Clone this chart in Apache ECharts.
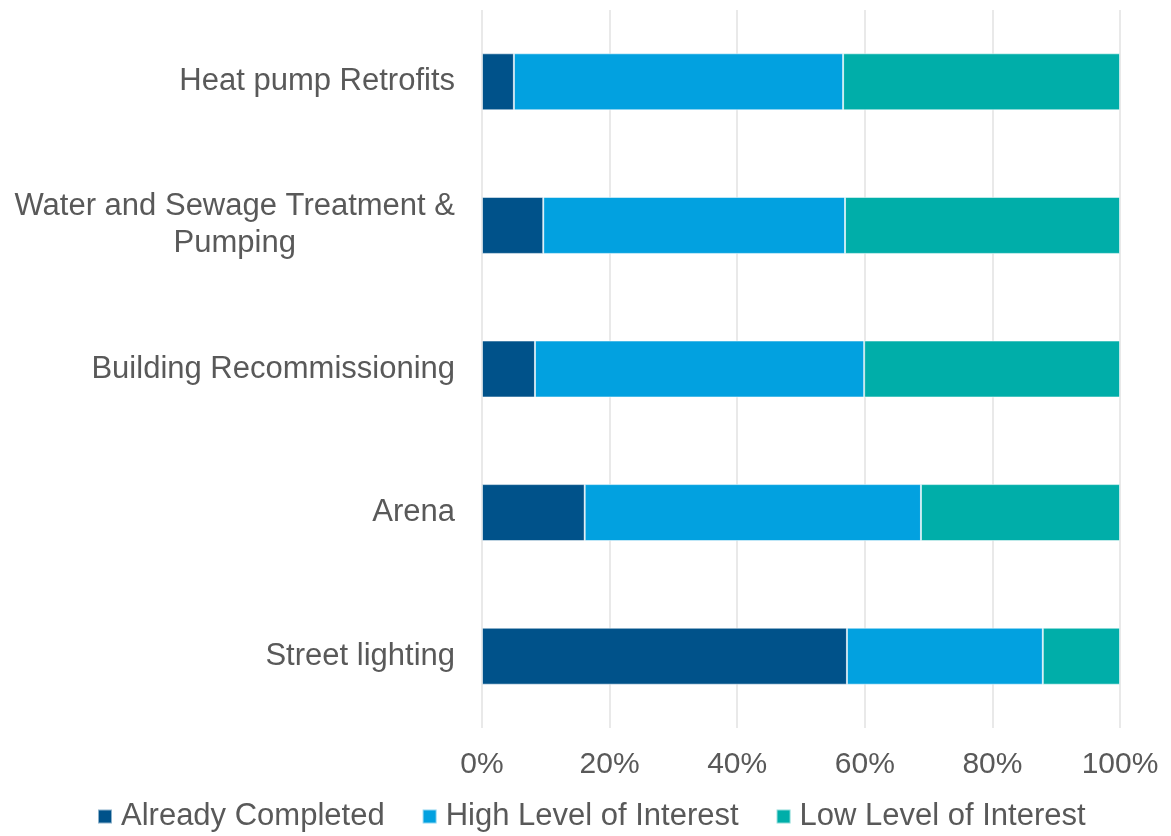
<!DOCTYPE html>
<html>
<head>
<meta charset="utf-8">
<script src="https://cdn.jsdelivr.net/npm/echarts@6/dist/echarts.min.js"></script>
<style>
  html, body { margin: 0; padding: 0; background: #ffffff; }
  #chart { width: 1171px; height: 836px; }
</style>
</head>
<body>
<div id="chart"></div>
<script>
// Project categories, listed bottom-to-top as the category axis draws them
const categories = [
  'Street lighting',
  'Arena',
  'Building Recommissioning',
  'Water and Sewage Treatment &\nPumping',
  'Heat pump Retrofits'
];

// Share of respondents (%) per category
const alreadyCompleted = [57.2, 16.1, 8.3, 9.6, 5.0];
const highInterest     = [30.7, 52.7, 51.6, 47.3, 51.6];
const lowInterest      = [12.1, 31.2, 40.1, 43.1, 43.4];

const seriesNames = ['Already Completed', 'High Level of Interest', 'Low Level of Interest'];
const seriesColors = ['#00528A', '#02A1E0', '#00AEA9'];

const xTicks = [0, 20, 40, 60, 80, 100];

const textGrey = '#595959';
const fontFamily = '"Liberation Sans", Arial, sans-serif';

const chart = echarts.init(document.getElementById('chart'), null, { renderer: 'canvas' });

const seriesData = [alreadyCompleted, highInterest, lowInterest];

chart.setOption({
  animation: false,
  backgroundColor: '#ffffff',
  grid: { left: 482, right: 51, top: 10, height: 718, containLabel: false },
  legend: {
    data: seriesNames,
    left: 97,
    top: 801,
    padding: 0,
    itemWidth: 14,
    itemHeight: 14,
    itemGap: 37,
    icon: 'rect',
    textStyle: { color: textGrey, fontSize: 31, fontFamily: fontFamily, padding: [0, 0, 0, 4] }
  },
  xAxis: {
    type: 'value',
    min: xTicks[0],
    max: xTicks[xTicks.length - 1],
    interval: 20,
    axisLine: { show: false },
    axisTick: { show: false },
    splitLine: { show: true, lineStyle: { color: '#e2e2e2', width: 1.5 } },
    axisLabel: {
      color: textGrey,
      fontSize: 30,
      fontFamily: fontFamily,
      margin: 22,
      formatter: v => v + '%'
    }
  },
  yAxis: {
    type: 'category',
    data: categories,
    axisLine: { show: false },
    axisTick: { show: false },
    axisLabel: {
      margin: 27,
      color: textGrey,
      fontSize: 31,
      fontFamily: fontFamily,
      formatter: v => v.split('\n').map(line => '{c|' + line + '}').join('\n'),
      rich: {
        c: {
          color: textGrey,
          fontSize: 31,
          fontFamily: fontFamily,
          lineHeight: 37,
          align: 'center'
        }
      }
    }
  },
  series: seriesNames.map((name, i) => ({
    name: name,
    type: 'bar',
    stack: 'total',
    barWidth: 57,
    data: seriesData[i],
    itemStyle: {
      color: seriesColors[i],
      borderColor: 'rgba(255,255,255,0.55)',
      borderWidth: 1
    }
  }))
});
</script>
</body>
</html>
